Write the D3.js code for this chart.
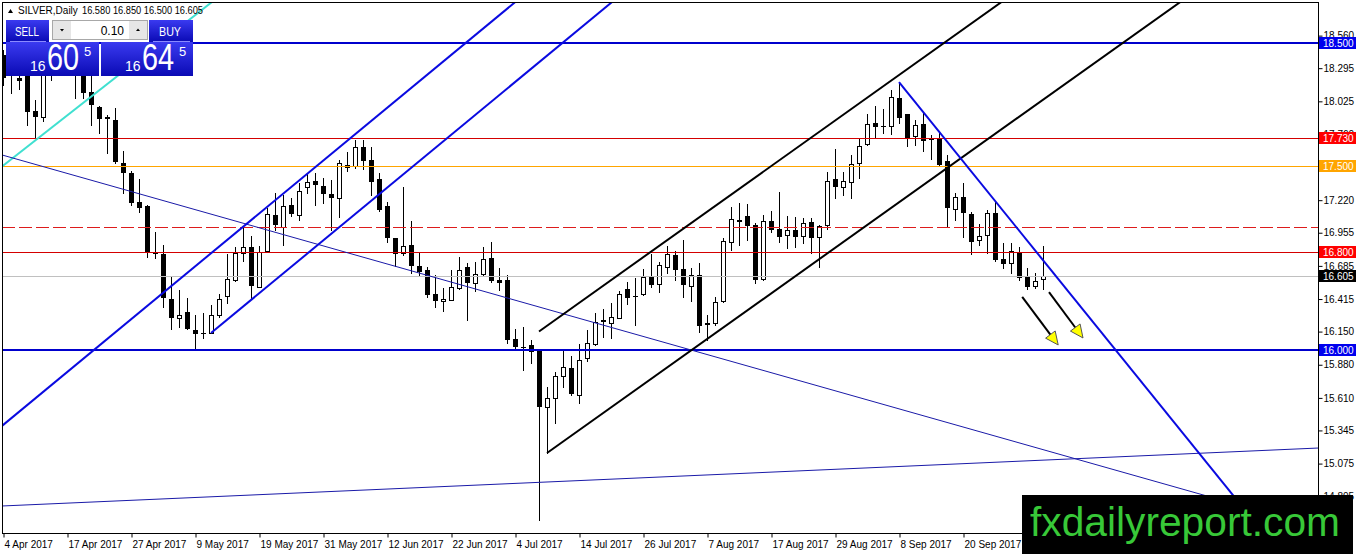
<!DOCTYPE html>
<html>
<head>
<meta charset="utf-8">
<script src="https://cdn.jsdelivr.net/npm/d3@7"></script>
<style>
body { margin: 0; background: #fff; overflow: hidden; }
svg { display: block; }
text { font-family: "Liberation Sans", Arial, sans-serif; }
</style>
</head>
<body>
<svg id="chart" width="1358" height="554"></svg>
<script>
/** SILVER daily, Apr - Oct 2017 **/

// candles, one entry per trading day (bar index 0 = 4 Apr 2017)
var open = [
  18.402, 18.30, 18.215, 18.24, 17.946, 17.897, 18.28, 18.33, 18.40, 18.30,
  18.25, 18.101, 17.979, 17.897, 17.873, 17.523, 17.441, 17.205, 17.173, 16.790,
  16.782, 16.415, 16.261, 16.309, 16.163, 16.138, 16.138, 16.285, 16.440, 16.570,
  16.790, 16.839, 16.513, 16.806, 17.099, 17.002, 17.181, 17.099, 17.327, 17.376,
  17.335, 17.270, 17.238, 17.507, 17.498, 17.653, 17.547, 17.392, 17.173, 16.912,
  16.790, 16.855, 16.684, 16.651, 16.456, 16.399, 16.407, 16.505, 16.676, 16.546,
  16.619, 16.749, 16.570, 16.570, 16.090, 16.024, 16.041, 16.000, 15.536, 15.609,
  15.788, 15.853, 15.634, 15.935, 16.049, 16.235, 16.220, 16.261, 16.497, 16.440,
  16.456, 16.594, 16.537, 16.676, 16.774, 16.660, 16.521, 16.611, 16.215, 16.220,
  16.399, 16.879, 17.059, 17.091, 17.018, 16.578, 17.050, 16.985, 16.936, 16.977,
  16.928, 17.042, 16.920, 17.018, 17.392, 17.327, 17.368, 17.523, 17.677, 17.848,
  17.824, 17.824, 18.052, 17.922, 17.743, 17.840, 17.718, 17.726, 17.539, 17.148,
  17.246, 17.107, 16.896, 16.936, 17.116, 16.741, 16.708, 16.798, 16.594, 16.521,
  16.580];
var high = [
  18.443, 18.40, 18.30, 18.30, 18.036, 18.32, 18.40, 18.45, 18.55, 18.40,
  18.30, 18.24, 17.99, 17.914, 17.971, 17.620, 17.458, 17.392, 17.18, 16.961,
  16.855, 16.595, 16.489, 16.423, 16.285, 16.301, 16.366, 16.456, 16.782, 16.839,
  16.993, 16.928, 16.847, 17.156, 17.278, 17.262, 17.238, 17.360, 17.441, 17.441,
  17.401, 17.384, 17.547, 17.612, 17.710, 17.710, 17.653, 17.441, 17.205, 16.912,
  17.327, 17.050, 16.798, 16.676, 16.611, 16.505, 16.651, 16.757, 16.708, 16.717,
  16.839, 16.879, 16.668, 16.611, 16.171, 16.187, 16.081, 16.000, 15.699, 15.821,
  15.992, 15.951, 16.049, 16.163, 16.301, 16.334, 16.383, 16.480, 16.554, 16.586,
  16.660, 16.782, 16.717, 16.847, 16.806, 16.896, 16.668, 16.708, 16.285, 16.432,
  16.912, 17.164, 17.197, 17.189, 17.034, 17.099, 17.132, 17.287, 17.091, 17.083,
  17.075, 17.075, 17.018, 17.449, 17.637, 17.449, 17.588, 17.718, 17.922, 17.987,
  17.962, 18.117, 18.182, 17.922, 17.873, 17.930, 17.751, 17.775, 17.588, 17.278,
  17.360, 17.124, 17.026, 17.140, 17.205, 16.871, 16.871, 16.839, 16.668, 16.627,
  16.850];
var low = [
  18.158, 18.093, 18.125, 17.832, 17.726, 17.865, 18.199, 18.25, 18.24, 18.052,
  18.052, 17.832, 17.767, 17.604, 17.523, 17.278, 17.181, 17.124, 16.757, 16.749,
  16.350, 16.171, 16.187, 16.171, 16.016, 16.098, 16.138, 16.269, 16.383, 16.562,
  16.725, 16.423, 16.513, 16.798, 16.977, 16.855, 17.091, 17.059, 17.278, 17.181,
  17.197, 16.977, 17.083, 17.458, 17.482, 17.474, 17.262, 17.132, 16.879, 16.684,
  16.774, 16.627, 16.611, 16.432, 16.350, 16.318, 16.407, 16.497, 16.244, 16.480,
  16.611, 16.554, 16.489, 16.057, 16.016, 15.837, 15.894, 14.616, 15.161, 15.406,
  15.699, 15.634, 15.568, 15.910, 16.041, 16.106, 16.098, 16.261, 16.375, 16.204,
  16.448, 16.513, 16.472, 16.627, 16.570, 16.432, 16.399, 16.147, 16.081, 16.204,
  16.391, 16.814, 16.855, 16.896, 16.546, 16.570, 16.961, 16.879, 16.831, 16.839,
  16.871, 16.790, 16.676, 16.985, 17.238, 17.262, 17.238, 17.401, 17.669, 17.734,
  17.767, 17.759, 17.848, 17.661, 17.669, 17.620, 17.555, 17.507, 17.002, 17.059,
  16.920, 16.782, 16.855, 16.790, 16.725, 16.668, 16.627, 16.570, 16.497, 16.505,
  16.500];
var close = [
  18.215, 18.25, 18.191, 17.938, 17.897, 18.25, 18.33, 18.40, 18.30, 18.25,
  18.093, 17.995, 17.881, 17.881, 17.531, 17.441, 17.197, 17.156, 16.790, 16.785,
  16.423, 16.261, 16.285, 16.171, 16.130, 16.140, 16.285, 16.415, 16.578, 16.790,
  16.839, 16.521, 16.798, 17.107, 17.018, 17.173, 17.107, 17.295, 17.368, 17.344,
  17.270, 17.238, 17.523, 17.482, 17.653, 17.539, 17.368, 17.140, 16.912, 16.782,
  16.847, 16.684, 16.635, 16.448, 16.399, 16.415, 16.513, 16.651, 16.546, 16.619,
  16.741, 16.562, 16.546, 16.081, 16.024, 16.020, 15.984, 15.536, 15.609, 15.788,
  15.862, 15.642, 15.919, 16.057, 16.228, 16.244, 16.269, 16.456, 16.423, 16.436,
  16.594, 16.529, 16.692, 16.782, 16.651, 16.529, 16.611, 16.195, 16.220, 16.391,
  16.888, 17.067, 17.042, 17.010, 16.570, 17.050, 16.977, 16.920, 16.977, 16.920,
  17.034, 16.912, 17.010, 17.376, 17.327, 17.376, 17.515, 17.661, 17.840, 17.816,
  17.820, 18.060, 17.889, 17.726, 17.832, 17.702, 17.714, 17.507, 17.156, 17.246,
  17.116, 16.879, 16.928, 17.116, 16.733, 16.700, 16.806, 16.586, 16.513, 16.562,
  16.605];

// axis ticks
var xTickIdx = [0, 8, 16, 24, 32, 40, 48, 56, 64, 72, 80, 88, 96, 104, 112, 120];
var xTickLabels = ["4 Apr 2017", "17 Apr 2017", "27 Apr 2017", "9 May 2017", "19 May 2017",
  "31 May 2017", "12 Jun 2017", "22 Jun 2017", "4 Jul 2017", "14 Jul 2017", "26 Jul 2017",
  "7 Aug 2017", "17 Aug 2017", "29 Aug 2017", "8 Sep 2017", "20 Sep 2017"];
var yTicks = [18.560, 18.295, 18.025, 17.760, 17.490, 17.220, 16.955, 16.685, 16.415,
  16.150, 15.880, 15.610, 15.345, 15.075, 14.805];

// horizontal levels and drawn trend lines (bar index, price)
var levels = [18.500, 17.730, 17.500, 17.000, 16.800, 16.605, 16.000];
var trendLines = [
  {name: "cyan",       i1: 0,   p1: 17.500, i2: 14,  p2: 18.215, ray: "both"},
  {name: "thinDown",   i1: 0,   p1: 17.586, i2: 100, p2: 15.742, ray: "both"},
  {name: "thinUp",     i1: 0,   p1: 14.730, i2: 130, p2: 15.103, ray: "both"},
  {name: "blueUpper",  i1: 0,   p1: 15.389, i2: 44,  p2: 17.756, ray: "both"},
  {name: "blueLower",  i1: 26,  p1: 16.138, i2: 44,  p2: 17.106, ray: "right"},
  {name: "blackUpper", i1: 67,  p1: 16.151, i2: 109, p2: 18.100, ray: "right"},
  {name: "blackLower", i1: 68,  p1: 15.161, i2: 131, p2: 18.084, ray: "right"},
  {name: "blueDown",   i1: 112, p1: 18.182, i2: 131, p2: 16.651, ray: "right"}
];
var arrows = [
  {i1: 127.4, p1: 16.432, i2: 131.9, p2: 16.041},
  {i1: 130.75, p1: 16.472, i2: 135, p2: 16.098}
];

// ---------- layout / styles ----------
var plotL = 2, plotR = 1318, plotT = 2, plotB = 533;

var levelStyle = {
  "18.500": {stroke: "#0000cd", width: 2, label: "#0000ee"},
  "17.730": {stroke: "#d40000", width: 1, label: "#ff0000"},
  "17.500": {stroke: "#ffa500", width: 1, label: "#ffa500"},
  "17.000": {stroke: "#dd1c1c", width: 1, dash: "13,4"},
  "16.800": {stroke: "#d40000", width: 1, label: "#ff0000"},
  "16.605": {stroke: "#c0c0c0", width: 1, label: "#000000"},
  "16.000": {stroke: "#0000cd", width: 2, label: "#0000ee"}
};
var lineStyle = {
  cyan:       {stroke: "#40e0d0", width: 2},
  thinDown:   {stroke: "#1a1aa8", width: 1},
  thinUp:     {stroke: "#1a1aa8", width: 1},
  blueUpper:  {stroke: "#0a0ae0", width: 2},
  blueLower:  {stroke: "#0a0ae0", width: 2},
  blackUpper: {stroke: "#000000", width: 2},
  blackLower: {stroke: "#000000", width: 2},
  blueDown:   {stroke: "#0a0ae0", width: 2}
};

var svg = d3.select("#chart");
var fmt = d3.format(".3f");

var x = d3.scaleLinear().domain([0, 130]).range([3, 1043]);
var y = d3.scaleLinear().domain([16.0, 18.5]).range([350, 43]);

svg.append("rect").attr("width", 1358).attr("height", 554).attr("fill", "#fff");

var defs = svg.append("defs");
defs.append("clipPath").attr("id", "plotClip")
  .append("rect").attr("x", plotL).attr("y", plotT)
  .attr("width", plotR - plotL).attr("height", plotB - plotT);

var grad = defs.append("linearGradient").attr("id", "btnGrad")
  .attr("x1", 0).attr("y1", 0).attr("x2", 0).attr("y2", 1);
grad.append("stop").attr("offset", "0%").attr("stop-color", "#3a3af0");
grad.append("stop").attr("offset", "100%").attr("stop-color", "#0a0ab4");

var plot = svg.append("g").attr("clip-path", "url(#plotClip)");

//candles
var bars = d3.range(open.length);
var candle = plot.selectAll("g.candle").data(bars).enter().append("g").attr("class", "candle");

candle.append("line")
  .attr("x1", function(i){return Math.round(x(i)) + 0.5;})
  .attr("x2", function(i){return Math.round(x(i)) + 0.5;})
  .attr("y1", function(i){return Math.round(y(high[i]));})
  .attr("y2", function(i){return Math.round(y(low[i])) + 1;})
  .attr("stroke", "#000").attr("stroke-width", 1);

candle.append("rect")
  .attr("x", function(i){
    var cx = Math.round(x(i));
    return close[i] >= open[i] ? cx - 1.5 : cx - 2;
  })
  .attr("y", function(i){
    var t = Math.round(y(Math.max(open[i], close[i])));
    return close[i] >= open[i] ? t + 0.5 : t;
  })
  .attr("width", function(i){return close[i] >= open[i] ? 4 : 5;})
  .attr("height", function(i){
    var t = Math.round(y(Math.max(open[i], close[i])));
    var b = Math.round(y(Math.min(open[i], close[i])));
    return Math.max(close[i] >= open[i] ? 0.01 : 1, b - t);
  })
  .attr("fill", function(i){return close[i] >= open[i] ? "#fff" : "#000";})
  .attr("stroke", function(i){return close[i] >= open[i] ? "#000" : "none";})
  .attr("stroke-width", 1);

//horizontal levels
plot.selectAll("line.level").data(levels).enter().append("line")
  .attr("class", "level")
  .attr("x1", plotL).attr("x2", plotR)
  .attr("y1", function(d){var s = levelStyle[fmt(d)]; var v = Math.round(y(d)); return s.width === 1 ? v + 0.5 : v;})
  .attr("y2", function(d){var s = levelStyle[fmt(d)]; var v = Math.round(y(d)); return s.width === 1 ? v + 0.5 : v;})
  .attr("stroke", function(d){return levelStyle[fmt(d)].stroke;})
  .attr("stroke-width", function(d){return levelStyle[fmt(d)].width;})
  .attr("stroke-dasharray", function(d){return levelStyle[fmt(d)].dash || null;});

//trend lines, extended as rays
function priceAt(t, i) {
  return t.p1 + (t.p2 - t.p1) * (i - t.i1) / (t.i2 - t.i1);
}
plot.selectAll("line.trend").data(trendLines).enter().append("line")
  .attr("class", "trend")
  .attr("x1", function(t){return x(t.ray === "both" ? -40 : t.i1);})
  .attr("y1", function(t){return y(priceAt(t, t.ray === "both" ? -40 : t.i1));})
  .attr("x2", function(t){return x(240);})
  .attr("y2", function(t){return y(priceAt(t, 240));})
  .attr("stroke", function(t){return lineStyle[t.name].stroke;})
  .attr("stroke-width", function(t){return lineStyle[t.name].width;});

//arrows
arrows.forEach(function(a) {
  var x1 = x(a.i1), y1 = y(a.p1), x2 = x(a.i2), y2 = y(a.p2);
  var dx = x2 - x1, dy = y2 - y1, len = Math.sqrt(dx * dx + dy * dy);
  var ux = dx / len, uy = dy / len;
  var bx = x2 - ux * 13, by = y2 - uy * 13;
  plot.append("line").attr("x1", x1).attr("y1", y1).attr("x2", bx).attr("y2", by)
    .attr("stroke", "#000").attr("stroke-width", 2);
  plot.append("path")
    .attr("d", "M" + x2 + "," + y2 +
      "L" + (bx - uy * 6) + "," + (by + ux * 6) +
      "L" + (bx + uy * 6) + "," + (by - ux * 6) + "Z")
    .attr("fill", "#ffff00").attr("stroke", "#555").attr("stroke-width", 1);
});

//frame
svg.append("rect")
  .attr("x", plotL + 0.5).attr("y", plotT + 0.5)
  .attr("width", plotR - plotL).attr("height", plotB - plotT)
  .attr("fill", "none").attr("stroke", "#000").attr("stroke-width", 1);

//axes
var yAxis = d3.axisRight(y).tickValues(yTicks).tickFormat(fmt)
  .tickSize(4).tickSizeOuter(0).tickPadding(1);
var gy = svg.append("g").attr("transform", "translate(" + (plotR + 0.5) + ",0)").call(yAxis);
gy.select(".domain").remove();
gy.selectAll("text").attr("font-size", 10).attr("fill", "#000")
  .attr("font-family", "Liberation Sans, Arial, sans-serif");
gy.selectAll("line").attr("stroke", "#000");

var xAxis = d3.axisBottom(x).tickValues(xTickIdx)
  .tickFormat(function(d, i){return xTickLabels[i];})
  .tickSize(4).tickSizeOuter(0).tickPadding(3);
var gx = svg.append("g").attr("transform", "translate(0," + (plotB + 0.5) + ")").call(xAxis);
gx.select(".domain").remove();
gx.selectAll("text").attr("font-size", 10).attr("fill", "#000")
  .attr("text-anchor", "start").attr("dx", 1)
  .attr("font-family", "Liberation Sans, Arial, sans-serif");
gx.selectAll("line").attr("stroke", "#000").attr("transform", "translate(0.5,0)");

//price labels of the levels
var lab = svg.selectAll("g.lvlLabel")
  .data(levels.filter(function(d){return levelStyle[fmt(d)].label;}))
  .enter().append("g").attr("class", "lvlLabel")
  .attr("transform", function(d){return "translate(" + (plotR + 1) + "," + Math.round(y(d)) + ")";});
lab.append("rect").attr("x", 0).attr("y", -6).attr("width", 37).attr("height", 12)
  .attr("fill", function(d){return levelStyle[fmt(d)].label;});
lab.append("text").attr("x", 4).attr("y", 4).attr("font-size", 10).attr("fill", "#fff")
  .text(function(d){return fmt(d);});

//header
svg.append("path").attr("d", "M8,13 L10.5,9 L13,13 Z").attr("fill", "#000");
svg.append("text").attr("x", 18).attr("y", 14).attr("font-size", 10).attr("fill", "#000")
  .text("SILVER,Daily");
svg.append("text").attr("x", 82).attr("y", 14).attr("font-size", 10).attr("fill", "#000")
  .attr("textLength", 121).attr("lengthAdjust", "spacingAndGlyphs")
  .text(fmt(open[130]) + " " + fmt(high[130]) + " " + fmt(low[130]) + " " + fmt(close[130]));

//one click trading panel
var panel = svg.append("g");
panel.append("rect").attr("x", 6).attr("y", 20).attr("width", 43).attr("height", 22).attr("fill", "url(#btnGrad)");
panel.append("rect").attr("x", 149).attr("y", 20).attr("width", 44).attr("height", 22).attr("fill", "url(#btnGrad)");
panel.append("rect").attr("x", 6).attr("y", 42).attr("width", 93).attr("height", 34).attr("fill", "url(#btnGrad)");
panel.append("rect").attr("x", 101).attr("y", 42).attr("width", 92).attr("height", 34).attr("fill", "url(#btnGrad)");
panel.append("line").attr("x1", 10).attr("x2", 46).attr("y1", 41.5).attr("y2", 41.5).attr("stroke", "#8a8aff");
panel.append("line").attr("x1", 153).attr("x2", 190).attr("y1", 41.5).attr("y2", 41.5).attr("stroke", "#8a8aff");
panel.append("rect").attr("x", 49).attr("y", 20).attr("width", 100).attr("height", 22).attr("fill", "#fff");
panel.append("rect").attr("x", 52.5).attr("y", 20.5).attr("width", 95).attr("height", 19)
  .attr("fill", "#fff").attr("stroke", "#a8a8a8");
panel.append("rect").attr("x", 53).attr("y", 21).attr("width", 18).attr("height", 18).attr("fill", "#e6e6e6");
panel.append("rect").attr("x", 129).attr("y", 21).attr("width", 18).attr("height", 18).attr("fill", "#e6e6e6");
panel.append("path").attr("d", "M60,29 L64,29 L62,31.5 Z").attr("fill", "#000");
panel.append("path").attr("d", "M136,31 L140,31 L138,28.5 Z").attr("fill", "#000");
panel.append("text").attr("x", 124).attr("y", 35).attr("font-size", 12).attr("text-anchor", "end")
  .attr("fill", "#000").text("0.10");
panel.append("text").attr("x", 15).attr("y", 36).attr("font-size", 13).attr("fill", "#fff")
  .attr("textLength", 24).attr("lengthAdjust", "spacingAndGlyphs").text("SELL");
panel.append("text").attr("x", 159).attr("y", 36).attr("font-size", 13).attr("fill", "#fff")
  .attr("textLength", 22).attr("lengthAdjust", "spacingAndGlyphs").text("BUY");

var quotes = [{big: "60", x: 6}, {big: "64", x: 101}];
quotes.forEach(function(q) {
  panel.append("text").attr("x", q.x + 24).attr("y", 71).attr("font-size", 14).attr("fill", "#fff").text("16");
  panel.append("text").attr("transform", "translate(" + (q.x + 41) + ",70) scale(0.78,1)")
    .attr("font-size", 37).attr("fill", "#fff").text(q.big);
  panel.append("text").attr("x", q.x + 78).attr("y", 56).attr("font-size", 13).attr("fill", "#fff").text("5");
});

//watermark
svg.append("rect").attr("x", 1022).attr("y", 495).attr("width", 331).attr("height", 59).attr("fill", "#000");
svg.append("text").attr("x", 1030).attr("y", 536).attr("font-size", 40).attr("fill", "#38c838")
  .attr("textLength", 310).attr("lengthAdjust", "spacingAndGlyphs").text("fxdailyreport.com");
</script>
</body>
</html>
